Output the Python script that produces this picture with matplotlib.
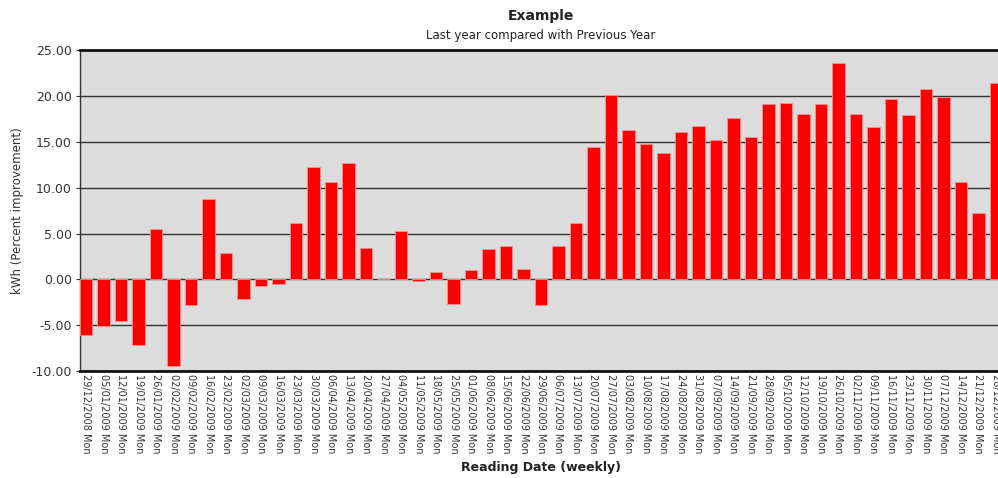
import matplotlib
matplotlib.use("Agg")
import matplotlib.pyplot as plt
import numpy as np

dates = ["29/12/2008", "05/01/2009", "12/01/2009", "19/01/2009", "26/01/2009", "02/02/2009",
         "09/02/2009", "16/02/2009", "23/02/2009", "02/03/2009", "09/03/2009", "16/03/2009",
         "23/03/2009", "30/03/2009", "06/04/2009", "13/04/2009", "20/04/2009", "27/04/2009",
         "04/05/2009", "11/05/2009", "18/05/2009", "25/05/2009", "01/06/2009", "08/06/2009",
         "15/06/2009", "22/06/2009", "29/06/2009", "06/07/2009", "13/07/2009", "20/07/2009",
         "27/07/2009", "03/08/2009", "10/08/2009", "17/08/2009", "24/08/2009", "31/08/2009",
         "07/09/2009", "14/09/2009", "21/09/2009", "28/09/2009", "05/10/2009", "12/10/2009",
         "19/10/2009", "26/10/2009", "02/11/2009", "09/11/2009", "16/11/2009", "23/11/2009",
         "30/11/2009", "07/12/2009", "14/12/2009", "21/12/2009", "28/12/2009"]
tick_labels = [d + " Mon" for d in dates]

values = [-6.11, -5.13, -4.55, -7.13, 5.49, -9.49, -2.76, 8.77, 2.84, -2.18, -0.76, -0.55,
          6.18, 12.22, 10.66, 12.70, 3.38, 0.0, 5.27, -0.18, 0.84, -2.69, 1.02, 3.27,
          3.60, 1.16, -2.76, 3.60, 6.18, 14.48, 20.12, 16.30, 14.81, 13.82, 16.08, 16.73,
          15.17, 17.61, 15.50, 19.10, 19.21, 18.08, 19.10, 23.57, 18.08, 16.62, 19.64, 17.97,
          20.77, 19.90, 10.66, 7.20, 21.43]

y_ticks = [-10, -5, 0, 5, 10, 15, 20, 25]

W, H = 998, 478
fig = plt.figure(figsize=(W / 100, H / 100), dpi=100)
left, right, top, bottom = 80, 1002, 50.3, 371
ax = fig.add_axes([left / W, 1 - bottom / H, (right - left) / W, (bottom - top) / H])
ax.set_facecolor("#dcdcdc")

x = np.arange(len(values))
ax.bar(x, values, width=0.7, color="#ff0000", edgecolor="#ff9090", linewidth=0.6, zorder=3)

ax.set_xlim(-0.35, len(values) - 1 + 0.35)
ax.set_ylim(-10, 25)
ax.set_yticks(y_ticks)
ax.set_yticklabels([f"{v:.2f}" for v in y_ticks], fontsize=9, color="#333333")
for v in y_ticks:
    ax.axhline(v, color="#333333", linewidth=1.0, zorder=1)

ax.set_xticks(x)
ax.set_xticklabels(tick_labels, rotation=270, fontsize=7, color="#333333", va="top", ha="center")
ax.tick_params(axis="x", length=0, pad=2)
ax.tick_params(axis="y", length=3, width=0.8, color="#333333", pad=3)

for s in ["top", "bottom"]:
    ax.spines[s].set_linewidth(2.0)
    ax.spines[s].set_color("#111111")
ax.spines["left"].set_linewidth(1.0)
ax.spines["left"].set_color("#333333")
ax.spines["right"].set_visible(False)

ax.set_ylabel("kWh (Percent improvement)", fontsize=8.5, color="#333333")
ax.yaxis.set_label_coords((24 - left) / (right - left), 0.5)

cx = (left + right) / 2 / W
fig.text(cx, 1 - 16 / H, "Example", ha="center", va="center", fontsize=10, fontweight="bold", color="#222222")
fig.text(cx, 1 - 36 / H, "Last year compared with Previous Year", ha="center", va="center", fontsize=8.5, color="#222222")
fig.text(cx, 1 - 468 / H, "Reading Date (weekly)", ha="center", va="center", fontsize=9, fontweight="bold", color="#222222")

fig.savefig("out.png", dpi=100)
